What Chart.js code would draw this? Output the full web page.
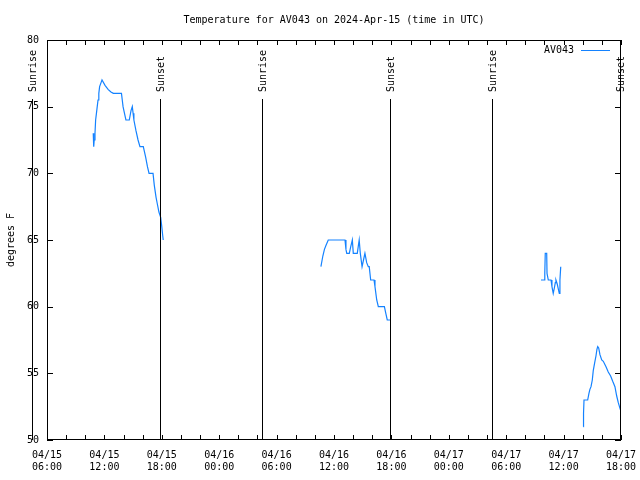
<!DOCTYPE html>
<html>
<head>
<meta charset="utf-8">
<script src="https://cdn.jsdelivr.net/npm/chart.js@4.4.1/dist/chart.umd.min.js"></script>
<style>
  html, body { margin: 0; padding: 0; background: #fff; }
  #wrap { width: 640px; height: 480px; }
</style>
</head>
<body>
<div id="wrap"><canvas id="tempChart" width="640" height="480"></canvas></div>
<script>
const stationName = 'AV043';
const chartTitle = 'Temperature for AV043 on 2024-Apr-15 (time in UTC)';
const yLabel = 'degrees F';

// readings (UTC), null = no data
const times = [
  '04/15 10:50', '04/15 10:53', '04/15 10:56', '04/15 11:01', '04/15 11:05', '04/15 11:10',
  '04/15 11:15', '04/15 11:20', '04/15 11:25', '04/15 11:30', '04/15 11:39', '04/15 11:45',
  '04/15 12:04', '04/15 12:23', '04/15 12:41', '04/15 12:56', '04/15 13:47', '04/15 13:52',
  '04/15 13:57', '04/15 14:06', '04/15 14:15', '04/15 14:36', '04/15 14:47', '04/15 14:55',
  '04/15 15:00', '04/15 15:05', '04/15 15:18', '04/15 15:31', '04/15 15:43', '04/15 16:04',
  '04/15 16:19', '04/15 16:30', '04/15 16:40', '04/15 17:05', '04/15 17:13', '04/15 17:24',
  '04/15 17:32', '04/15 17:42', '04/15 17:53', '04/15 17:59', '04/15 18:06', '04/15 18:09',
  '04/16 02:00',
  '04/16 10:38', '04/16 10:50', '04/16 11:00', '04/16 11:10', '04/16 11:24', '04/16 13:09',
  '04/16 13:15', '04/16 13:20', '04/16 13:36', '04/16 13:45', '04/16 13:55', '04/16 14:01',
  '04/16 14:26', '04/16 14:32', '04/16 14:38', '04/16 14:45', '04/16 14:56', '04/16 15:05',
  '04/16 15:14', '04/16 15:25', '04/16 15:35', '04/16 15:41', '04/16 15:50', '04/16 16:11',
  '04/16 16:17', '04/16 16:28', '04/16 16:38', '04/16 17:16', '04/16 17:25', '04/16 17:34',
  '04/16 17:56',
  '04/17 02:00',
  '04/17 09:38', '04/17 09:59', '04/17 10:02', '04/17 10:05', '04/17 10:14', '04/17 10:16',
  '04/17 10:24', '04/17 10:41', '04/17 10:47', '04/17 10:55', '04/17 11:02', '04/17 11:08',
  '04/17 11:12', '04/17 11:20', '04/17 11:29', '04/17 11:33', '04/17 11:37', '04/17 11:42',
  '04/17 13:00',
  '04/17 14:04', '04/17 14:05', '04/17 14:08', '04/17 14:31', '04/17 14:39', '04/17 14:45',
  '04/17 14:52', '04/17 15:00', '04/17 15:06', '04/17 15:15', '04/17 15:23', '04/17 15:29',
  '04/17 15:34', '04/17 15:40', '04/17 15:48', '04/17 15:59', '04/17 16:09', '04/17 16:26',
  '04/17 16:40', '04/17 16:55', '04/17 17:08', '04/17 17:22', '04/17 17:33', '04/17 17:43',
  '04/17 17:58'
];
const temps = [
  73, 72, 72.5, 73, 74, 74.5,
  75, 75.5, 76, 76.5, 76.8, 77,
  76.6, 76.3, 76.1, 76, 76, 75.5,
  75, 74.5, 74, 74, 74.7, 75,
  74.5, 74, 73.2, 72.5, 72, 72,
  71.2, 70.5, 70, 70, 69.1, 68.2,
  67.7, 67.1, 66.7, 66.1, 65.3, 65,
  null,
  63, 63.8, 64.3, 64.6, 65, 65,
  64.3, 64, 64, 64.5, 65, 64,
  64, 64.5, 65, 64, 63, 63.5,
  64, 63.3, 63, 63, 62, 62,
  61.5, 60.5, 60, 60, 59.5, 59,
  59,
  null,
  62, 62, 62.5, 64, 64, 62.5,
  62, 62, 61.5, 61, 61.4, 61.8,
  62, 61.7, 61.2, 61, 62, 63,
  null,
  51, 52, 53, 53, 53.5, 53.8,
  54, 54.5, 55.2, 55.8, 56.3, 56.8,
  57, 56.9, 56.4, 56, 55.9, 55.5,
  55.1, 54.8, 54.4, 54, 53.3, 52.8,
  52.2
];

const eventTimes = ['04/15 04:28', '04/15 17:51', '04/16 04:28', '04/16 17:52', '04/17 04:29', '04/17 17:52'];
const eventNames = ['Sunrise', 'Sunset', 'Sunrise', 'Sunset', 'Sunrise', 'Sunset'];

const yMin = 50, yMax = 80, yStep = 5;
const xMin = 6, xMax = 66, xStep = 2;   // hours since 04/15 00:00

const lineColor = 'rgb(20, 130, 255)';
const monoFont = '10px "DejaVu Sans Mono", monospace';

// '04/15 10:50' -> hours since 04/15 00:00
function toHours(s) {
  const [md, hm] = s.split(' ');
  const day = +md.split('/')[1];
  const [h, m] = hm.split(':').map(Number);
  return (day - 15) * 24 + h + m / 60;
}
const pad = n => String(n).padStart(2, '0');

const points = times.map((t, i) => ({ x: toHours(t), y: temps[i] }));

const gnuplotBits = {
  id: 'gnuplotBits',
  afterDraw(chart) {
    const { ctx, chartArea: a, scales: { x, y } } = chart;
    ctx.save();
    ctx.strokeStyle = '#000';
    ctx.fillStyle = '#000';
    ctx.lineWidth = 1;
    ctx.font = monoFont;

    // inward ticks
    ctx.beginPath();
    x.ticks.forEach(t => {
      const px = Math.round(x.getPixelForValue(t.value)) + 0.5;
      ctx.moveTo(px, a.bottom); ctx.lineTo(px, a.bottom - 5);
      ctx.moveTo(px, a.top); ctx.lineTo(px, a.top + 5);
    });
    y.ticks.forEach(t => {
      const py = Math.round(y.getPixelForValue(t.value)) + 0.5;
      ctx.moveTo(a.left, py); ctx.lineTo(a.left + 6, py);
      ctx.moveTo(a.right, py); ctx.lineTo(a.right - 6, py);
    });
    ctx.stroke();
    ctx.strokeRect(a.left + 0.5, a.top + 0.5, a.width - 1, a.height - 1);

    // sunrise / sunset markers (the first one lies left of the frame)
    eventTimes.forEach((t, i) => {
      const px = Math.round(x.left + (toHours(t) - xMin) / (xMax - xMin) * x.width) + 0.5;
      ctx.fillRect(px - 0.5, 99, 1, a.bottom - 99);
      ctx.save();
      ctx.translate(px + 1, 92);
      ctx.rotate(-Math.PI / 2);
      ctx.textAlign = 'left';
      ctx.textBaseline = 'middle';
      ctx.fillText(eventNames[i], 0, 0);
      ctx.restore();
    });

    // title
    ctx.textAlign = 'center';
    ctx.textBaseline = 'middle';
    ctx.fillText(chartTitle, (a.left + a.right) / 2, 20);

    // y label
    ctx.save();
    ctx.translate(11, (a.top + a.bottom) / 2);
    ctx.rotate(-Math.PI / 2);
    ctx.fillText(yLabel, 0, 0);
    ctx.restore();

    // key
    ctx.textAlign = 'right';
    ctx.fillText(stationName, 574, 50);
    ctx.strokeStyle = lineColor;
    ctx.beginPath();
    ctx.moveTo(581, 50.5);
    ctx.lineTo(610, 50.5);
    ctx.stroke();
    ctx.restore();
  }
};

new Chart(document.getElementById('tempChart'), {
  type: 'line',
  data: {
    datasets: [{
      label: stationName,
      data: points,
      borderColor: lineColor,
      borderWidth: 1.2,
      pointRadius: 0,
      tension: 0,
      spanGaps: false
    }]
  },
  options: {
    responsive: false,
    animation: false,
    devicePixelRatio: 1,
    layout: { padding: { top: 40, right: 19, left: 0, bottom: 0 } },
    plugins: {
      legend: { display: false },
      title: { display: false },
      tooltip: { enabled: false }
    },
    scales: {
      x: {
        type: 'linear',
        min: xMin,
        max: xMax,
        grid: { display: false, drawTicks: false },
        border: { display: false },
        afterFit: s => { s.height = 40; s.paddingLeft = 0; s.paddingRight = 0; },
        ticks: {
          stepSize: xStep,
          autoSkip: false,
          maxRotation: 0,
          padding: 10,
          color: '#000',
          font: { family: '"DejaVu Sans Mono", monospace', size: 10, lineHeight: 1.15 },
          callback: v => {
            if (v % 6 !== 0) return '';
            const day = 15 + Math.floor(v / 24);
            return ['04/' + pad(day), pad(v % 24) + ':00'];
          }
        }
      },
      y: {
        min: yMin,
        max: yMax,
        grid: { display: false, drawTicks: false },
        border: { display: false },
        afterFit: s => { s.width = 47; s.paddingTop = 0; s.paddingBottom = 0; },
        ticks: {
          stepSize: yStep,
          padding: 8,
          color: '#000',
          font: { family: '"DejaVu Sans Mono", monospace', size: 10 }
        }
      }
    }
  },
  plugins: [gnuplotBits]
});
</script>
</body>
</html>
